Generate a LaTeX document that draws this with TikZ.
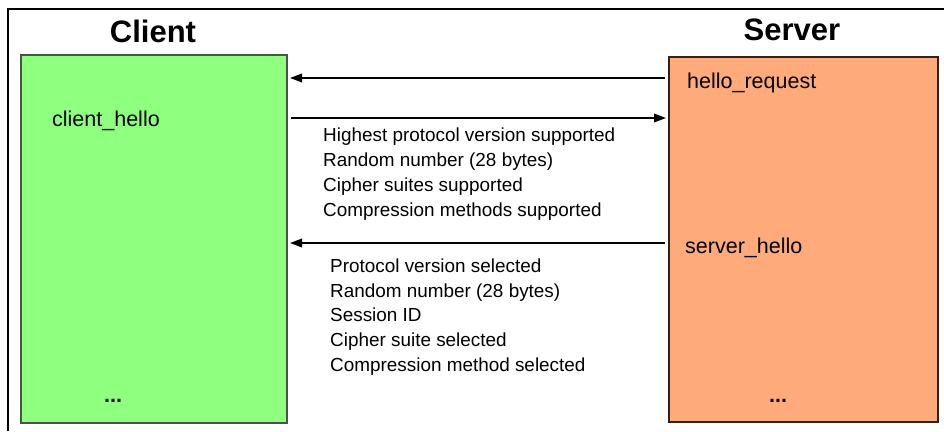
\documentclass[tikz,border=0pt]{standalone}
\usepackage{fontspec}
\setmainfont{Liberation Sans}
\usetikzlibrary{arrows.meta}
\definecolor{clientgreen}{RGB}{143,255,128}
\definecolor{serverorange}{RGB}{255,170,122}
\definecolor{clientedge}{RGB}{70,85,70}
\definecolor{serveredge}{RGB}{45,35,30}
\begin{document}
\begin{tikzpicture}[x=1pt,y=-1pt,
  box/.style={line width=1.6pt, inner sep=0pt, outer sep=0pt, anchor=north west},
  title/.style={font=\fontsize{31}{36}\selectfont\bfseries, anchor=base, inner sep=0pt},
  msg/.style={font=\fontsize{21.5}{25}\selectfont, anchor=base west, inner sep=0pt},
  detail/.style={font=\fontsize{18.9}{25}\selectfont, anchor=base west, inner sep=0pt},
  arr/.style={line width=1.8pt, -{Triangle[length=12pt,width=8.5pt]}}]
\useasboundingbox (0,0) rectangle (944,431);
\fill[white] (0,0) rectangle (944,431);
% frame
\draw[line width=1.2pt] (8,431) -- (8,9) -- (944,9);
% boxes
\node[box, draw=clientedge, fill=clientgreen, minimum width=266pt, minimum height=368pt] (client) at (21,55) {};
\node[box, draw=serveredge, fill=serverorange, minimum width=269pt, minimum height=365pt] (server) at (669,57) {};
% titles
\node[title] (clientT) at (153,42) {Client};
\node[title] (serverT) at (792,40) {Server};
% messages
\node[msg] (ch) at (52,126) {client\_hello};
\node[msg] (hr) at (687,88) {hello\_request};
\node[msg] (sh) at (685,253) {server\_hello};
\node[msg, font=\fontsize{21.5}{25}\selectfont\bfseries] (cdots) at (104,402) {...};
\node[msg, font=\fontsize{21.5}{25}\selectfont\bfseries] (sdots) at (769,402) {...};
% arrows
\coordinate (a1s) at ([xshift=-4pt]server.west |- 0,78);
\coordinate (a1e) at ([xshift=3pt]client.east |- 0,78);
\coordinate (a2s) at ([xshift=4pt]client.east |- 0,118);
\coordinate (a2e) at ([xshift=-3pt]server.west |- 0,118);
\coordinate (a3s) at ([xshift=-4pt]server.west |- 0,243);
\coordinate (a3e) at ([xshift=3pt]client.east |- 0,243);
\draw[arr] (a1s) -- (a1e);
\draw[arr] (a2s) -- (a2e);
\draw[arr] (a3s) -- (a3e);
% details of client_hello
\node[detail] (d1) at (323,141.7) {Highest protocol version supported};
\node[detail] (d2) at (323,166.7) {Random number (28 bytes)};
\node[detail] (d3) at (323,191.7) {Cipher suites supported};
\node[detail] (d4) at (323,216.7) {Compression methods supported};
% details of server_hello
\node[detail] (e1) at (330,272.3) {Protocol version selected};
\node[detail] (e2) at (330,297.1) {Random number (28 bytes)};
\node[detail] (e3) at (330,321.9) {Session ID};
\node[detail] (e4) at (330,346.7) {Cipher suite selected};
\node[detail] (e5) at (330,371.5) {Compression method selected};
\end{tikzpicture}
\end{document}
